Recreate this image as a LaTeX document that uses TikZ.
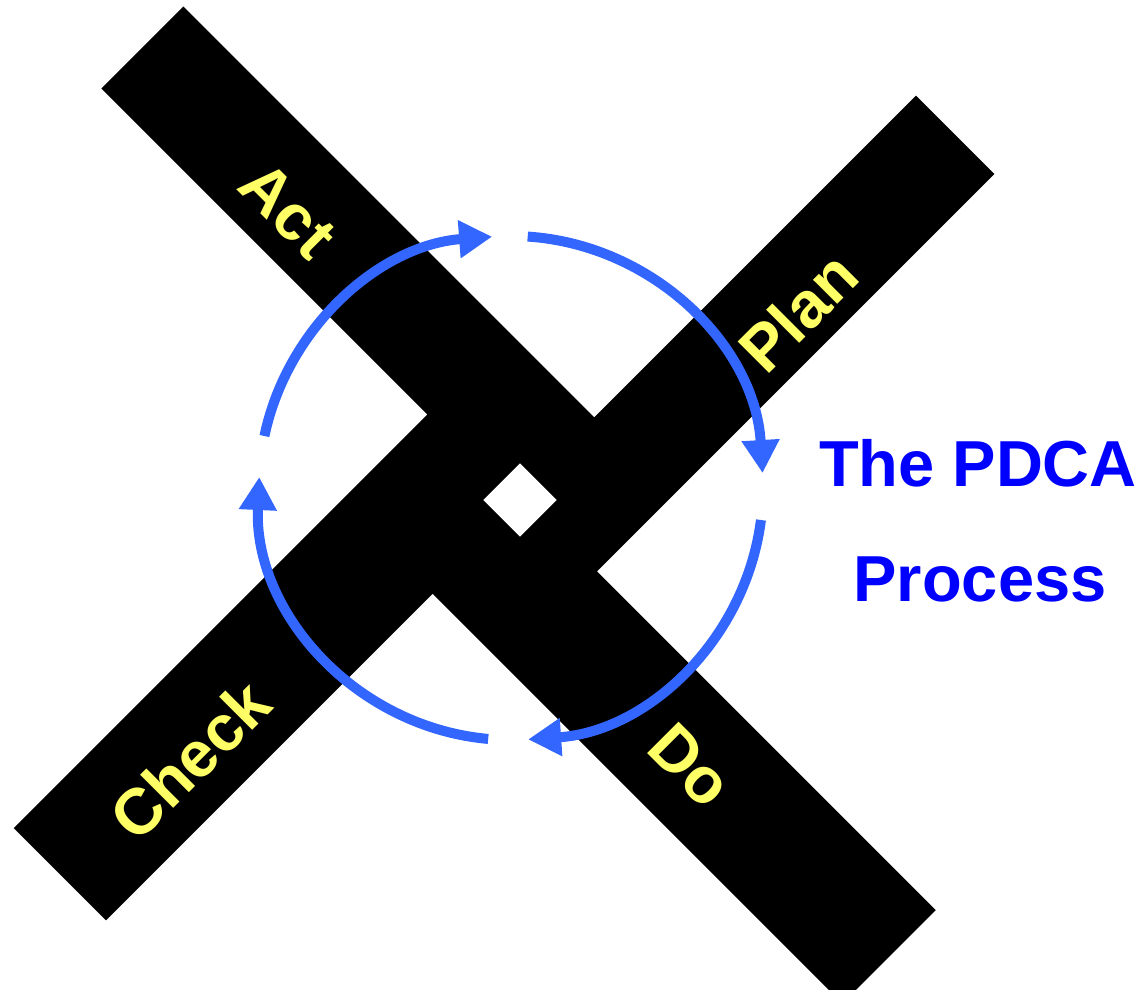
\documentclass[tikz,border=0pt]{standalone}
\usepackage{fontspec}
\setmainfont{Liberation Sans}
\usetikzlibrary{arrows.meta}
\definecolor{phaseyellow}{HTML}{FFFF66}
\definecolor{cycleblue}{HTML}{3366FF}
\definecolor{headingblue}{HTML}{0000FF}

\begin{document}
\begin{tikzpicture}[
  phase/.style={text=phaseyellow, font=\bfseries\fontsize{18.4pt}{20pt}\selectfont},
  heading/.style={text=headingblue, font=\bfseries\fontsize{18.5pt}{22pt}\selectfont, anchor=base},
  cyclearc/.style={draw=cycleblue, line width=0.1cm, -{Triangle[length=0.33cm,width=0.36cm]}}
]
\useasboundingbox (0,0) rectangle (11.4,9.9);
\clip (0,0) rectangle (11.4,9.9);

% the four arms round the hub, with the hole
\begin{scope}[shift={(5.2,4.9)}, rotate=-45]
\fill[even odd rule] (-5.87,-0.05) -- (-5.87,1.11) -- (-0.06,1.11) -- (-0.06,5.66)
  -- (1.05,5.66) -- (1.05,0.04) -- (5.84,0.04) -- (5.84,-1.28) -- (0.045,-1.28)
  -- (0.045,-5.90) -- (-1.26,-5.90) -- (-1.26,-0.05) -- cycle
  (-0.26,-0.26) rectangle (0.26,0.26);
\end{scope}

% the cycle
\coordinate (hub) at (5.11,5.02);
\draw[cyclearc] ([shift={(86.2:2.52)}]hub) arc[start angle=86.2, end angle=3.4, radius=2.52];
\draw[cyclearc] ([shift={(-7.3:2.52)}]hub) arc[start angle=-7.3, end angle=-86.1, radius=2.52];
\draw[cyclearc] ([shift={(264.8:2.52)}]hub) arc[start angle=264.8, end angle=177.5, radius=2.52];
\draw[cyclearc] ([shift={(168.1:2.52)}]hub) arc[start angle=168.1, end angle=94.3, radius=2.52];

\node[phase, rotate=-45] (act) at (2.88,7.80) {Act};
\node[phase, rotate=45] (plan) at (7.98,6.78) {Plan};
\node[phase, rotate=45] (check) at (1.90,2.30) {Check};
\node[phase, rotate=-45] (do) at (6.90,2.25) {Do};

\node[heading] (pdca) at (9.78,5.03) {The PDCA};
\node[heading] (process) at (9.80,3.88) {Process};
\end{tikzpicture}
\end{document}
